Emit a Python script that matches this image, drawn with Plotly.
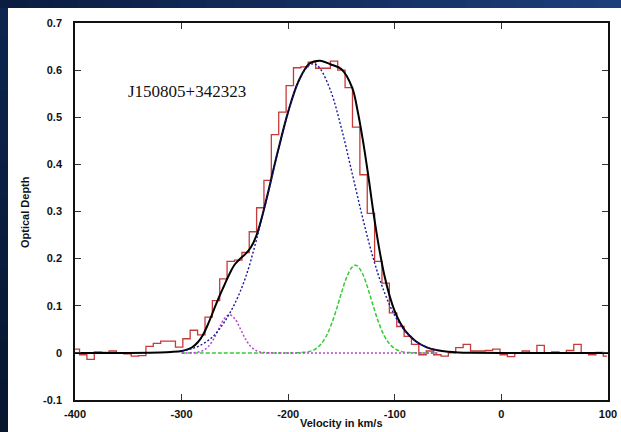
import plotly.graph_objects as go

# ---------------- data ----------------
# HI optical depth spectrum (channel centres, km/s) and values
vel = [-406.1, -399.2, -392.3, -385.4, -378.4, -371.5, -364.6, -357.7, -350.8, -343.8,
       -336.9, -330.0, -323.1, -316.2, -309.2, -302.3, -295.4, -288.5, -281.5, -274.6,
       -267.7, -260.8, -253.9, -246.9, -240.0, -233.1, -226.2, -219.3, -212.4, -205.4,
       -198.5, -191.6, -184.7, -177.8, -170.8, -163.9, -157.0, -150.1, -143.2, -136.2,
       -129.3, -122.4, -115.5, -108.6, -101.6, -94.7, -87.8, -80.9, -74.0, -67.0,
       -60.1, -53.2, -46.3, -39.4, -32.4, -25.5, -18.6, -11.7, -4.8, 2.2,
       9.1, 16.0, 22.9, 29.8, 36.8, 43.7, 50.6, 57.5, 64.4, 71.4,
       78.3, 85.2, 92.1, 99.0]
tau = [0.008, 0.008, -0.004, -0.014, 0.002, 0.001, 0.004, 0.000, -0.002, -0.007,
       -0.006, 0.014, 0.020, 0.025, 0.025, 0.012, 0.030, 0.048, 0.038, 0.076,
       0.111, 0.157, 0.194, 0.197, 0.213, 0.257, 0.308, 0.366, 0.463, 0.511,
       0.567, 0.605, 0.607, 0.617, 0.604, 0.604, 0.619, 0.600, 0.563, 0.479,
       0.378, 0.296, 0.194, 0.148, 0.085, 0.056, 0.035, 0.018, -0.004, 0.004,
       -0.004, -0.007, 0.000, 0.011, 0.018, 0.004, 0.004, 0.005, 0.008, -0.004,
       -0.008, 0.000, 0.004, -0.001, 0.016, 0.000, 0.002, 0.000, 0.005, 0.018,
       0.000, -0.004, 0.001, -0.007]

# total fit (black)
fit_v = [-400, -350, -330, -320, -310, -300, -295, -290, -285, -280, -275, -270, -265,
         -260, -255, -250, -245, -240, -235, -230, -225, -220, -210, -200, -190, -180,
         -170, -160, -150, -140, -135, -130, -125, -120, -115, -110, -105, -100, -95,
         -90, -80, -70, -60, -50, -40, -30, 0, 100]
fit_tot = [0.0, 0.0, 0.0005, 0.001, 0.002, 0.004, 0.007, 0.012, 0.022, 0.038, 0.062, 0.090,
           0.118, 0.143, 0.168, 0.188, 0.200, 0.210, 0.224, 0.248, 0.285, 0.330, 0.425,
           0.512, 0.578, 0.614, 0.620, 0.612, 0.602, 0.563, 0.515, 0.452, 0.378, 0.297,
           0.226, 0.167, 0.122, 0.088, 0.064, 0.046, 0.024, 0.0116, 0.0054, 0.0023,
           0.0009, 0.0003, 0.0, 0.0]

# broad component (blue dotted)
c1_v = [-300, -290, -280, -270, -260, -250, -240, -230, -220, -210, -200, -190, -180,
        -175, -170, -160, -150, -140, -130, -120, -110, -100, -90, -80, -70, -60]
c1 = [0.0035, 0.009, 0.019, 0.036, 0.065, 0.105, 0.160, 0.238, 0.328, 0.422, 0.511,
      0.578, 0.611, 0.613, 0.603, 0.555, 0.476, 0.381, 0.285, 0.199, 0.130, 0.079,
      0.045, 0.024, 0.012, 0.005]

# narrow blue-shifted component (magenta)
c2_v = [-300, -295, -290, -285, -280, -275, -270, -265, -260, -255, -250, -245, -240,
        -235, -230, -225, -220, -215, -60]
c2 = [0.0, 0.0, 0.0003, 0.0014, 0.0048, 0.0132, 0.0292, 0.0515, 0.0723, 0.081, 0.0723,
      0.0515, 0.0292, 0.0132, 0.0048, 0.0014, 0.0003, 0.0, 0.0]

# narrow red-shifted component (green)
c3_v = [-300, -195, -190, -185, -180, -175, -170, -165, -160, -155, -150, -145, -140,
        -137, -135, -130, -125, -120, -115, -110, -105, -100, -95, -90, -85, -80, -60]
c3 = [0.0, 0.0, 0.0004, 0.0011, 0.0031, 0.0075, 0.0165, 0.0326, 0.0574, 0.0905, 0.1278,
      0.1613, 0.1823, 0.186, 0.1844, 0.1668, 0.1350, 0.0979, 0.0634, 0.0368, 0.0191,
      0.0089, 0.0037, 0.0014, 0.0005, 0.0001, 0.0]

x_ticks = [-400, -300, -200, -100, 0, 100]
x_ticktext = ["-400", "-300", "-200", "-100", "0", "100"]
y_ticks = [-0.1, 0, 0.1, 0.2, 0.3, 0.4, 0.5, 0.6, 0.7]
y_ticktext = ["-0.1", "0", "0.1", "0.2", "0.3", "0.4", "0.5", "0.6", "0.7"]

source_name = "J150805+342323"

# ---------------- figure ----------------
W, H = 621, 432
L, R, T, B = 75, 13, 23, 32
pw, ph = W - L - R, H - T - B

def px_x(p):
    return (p - L) / pw

def px_y(p):
    return (H - B - p) / ph

fig = go.Figure()

fig.add_trace(go.Scatter(x=vel, y=tau, mode="lines", line_shape="hvh",
                         line=dict(color="#c63a3a", width=1.3), hoverinfo="skip"))
fig.add_trace(go.Scatter(x=c3_v, y=c3, mode="lines", line_shape="spline",
                         line=dict(color="#33cc33", width=1.5, dash="4px,2px"), hoverinfo="skip"))
fig.add_trace(go.Scatter(x=c2_v, y=c2, mode="lines", line_shape="spline",
                         line=dict(color="#b545c8", width=1.5, dash="2px,2px"), hoverinfo="skip"))
fig.add_trace(go.Scatter(x=fit_v, y=fit_tot, mode="lines", line_shape="spline",
                         line=dict(color="#000000", width=2), hoverinfo="skip"))
fig.add_trace(go.Scatter(x=c1_v, y=c1, mode="lines", line_shape="spline",
                         line=dict(color="#1a1a9a", width=1.4, dash="2px,2px"), hoverinfo="skip"))

# background: dark blue bands (top and left) with a gradient; rest white
shapes = []
n = 24
c0 = (11, 30, 66)
c1c = (28, 62, 122)
for i in range(n):
    f = i / (n - 1)
    col = "rgb(%d,%d,%d)" % tuple(int(a + (b - a) * f) for a, b in zip(c0, c1c))
    shapes.append(dict(type="rect", xref="paper", yref="paper", layer="below",
                       x0=px_x(i * W / n), x1=px_x((i + 1) * W / n + 1),
                       y0=px_y(8), y1=px_y(-2), line_width=0, fillcolor=col))
lc0 = (13, 38, 80)
lc1 = (8, 22, 46)
for i in range(n):
    f = i / (n - 1)
    col = "rgb(%d,%d,%d)" % tuple(int(a + (b - a) * f) for a, b in zip(lc0, lc1))
    top = 8 if i == 0 else i * H / n
    shapes.append(dict(type="rect", xref="paper", yref="paper", layer="below",
                       x0=px_x(-2), x1=px_x(8),
                       y0=px_y((i + 1) * H / n + 1), y1=px_y(top),
                       line_width=0, fillcolor=col))

axis_font = dict(family="Liberation Sans, Arial, sans-serif", size=11, color="#111", weight="bold")

fig.update_layout(
    width=W, height=H,
    margin=dict(l=L, r=R, t=T, b=B, pad=0, autoexpand=False),
    paper_bgcolor="white",
    plot_bgcolor="white",
    showlegend=False,
    shapes=shapes,
    xaxis=dict(range=[-400, 100], tickvals=x_ticks, ticktext=x_ticktext,
               showline=True, linecolor="#111", linewidth=1.5, mirror="allticks",
               ticks="inside", ticklen=6, tickwidth=1, tickcolor="#333",
               showgrid=False, zeroline=False, tickfont=axis_font,
               ticklabelstandoff=3, automargin=False),
    yaxis=dict(range=[-0.1, 0.7], tickvals=y_ticks, ticktext=y_ticktext,
               showline=True, linecolor="#111", linewidth=1.5, mirror="allticks",
               ticks="inside", ticklen=6, tickwidth=1, tickcolor="#333",
               showgrid=False, zeroline=False, tickfont=axis_font,
               ticklabelstandoff=9, automargin=False),
    annotations=[
        dict(text=source_name, xref="paper", yref="paper", x=px_x(187), y=px_y(91),
             xanchor="center", yanchor="middle", showarrow=False,
             font=dict(family="Liberation Serif, Times New Roman, serif", size=17, color="#111")),
        dict(text="Optical Depth", xref="paper", yref="paper", x=px_x(25), y=px_y(212),
             xanchor="center", yanchor="middle", textangle=-90, showarrow=False,
             font=dict(family="Liberation Sans, Arial, sans-serif", size=11, color="#111", weight="bold")),
        dict(text="Velocity in km/s", xref="paper", yref="paper", x=px_x(341), y=px_y(431),
             xanchor="center", yanchor="bottom", showarrow=False,
             font=dict(family="Liberation Sans, Arial, sans-serif", size=11, color="#111", weight="bold")),
    ],
)

fig.write_html("out.html")
